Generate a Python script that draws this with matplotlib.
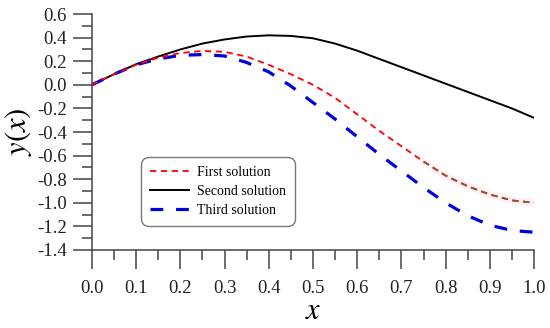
import matplotlib.pyplot as plt
from matplotlib.ticker import MultipleLocator, FormatStrFormatter

x = [0.0, 0.05, 0.1, 0.15, 0.2, 0.25, 0.3, 0.35, 0.4, 0.45, 0.5,
     0.55, 0.6, 0.65, 0.7, 0.75, 0.8, 0.85, 0.9, 0.95, 1.0]
first = [0.0, 0.09, 0.17, 0.23, 0.27, 0.288, 0.28, 0.24, 0.17, 0.09, 0.0,
         -0.11, -0.25, -0.39, -0.52, -0.65, -0.77, -0.86, -0.93, -0.98, -1.0]
second = [0.0, 0.09, 0.175, 0.24, 0.30, 0.35, 0.385, 0.41, 0.42, 0.415, 0.395,
          0.35, 0.29, 0.22, 0.15, 0.08, 0.01, -0.06, -0.13, -0.20, -0.28]
third = [0.0, 0.09, 0.17, 0.22, 0.25, 0.257, 0.245, 0.19, 0.11, -0.01, -0.15,
         -0.29, -0.44, -0.59, -0.73, -0.87, -1.0, -1.11, -1.19, -1.235, -1.25]

plt.rcParams['font.family'] = ['Liberation Serif', 'DejaVu Serif']
plt.rcParams['mathtext.fontset'] = 'stix'

fig = plt.figure(figsize=(5.5, 3.28), dpi=100)
ax = fig.add_axes([0.167, 0.238, 0.804, 0.719])

# red line fades to brown near the end in the source image
ax.plot(x[15:], first[15:], color='#fff0f5', lw=5, solid_capstyle='round', zorder=1)
ax.plot(x, first, color='red', lw=1.3, dashes=(3.5, 2.5), label='First solution', zorder=3)
ax.plot(x[15:], first[15:], color='#8b5a2b', lw=1.3, dashes=(3.5, 2.5), zorder=3)
ax.plot(x, second, color='black', lw=1.4, label='Second solution', zorder=2)
ax.plot(x, third, color='#0000dd', lw=2.3, dashes=(4, 4), label='Third solution', zorder=2)

ax.set_xlim(0, 1.0)
ax.set_ylim(-1.4, 0.6)
ax.xaxis.set_major_locator(MultipleLocator(0.1))
ax.xaxis.set_minor_locator(MultipleLocator(0.05))
ax.yaxis.set_major_locator(MultipleLocator(0.2))
ax.yaxis.set_minor_locator(MultipleLocator(0.1))
ax.xaxis.set_major_formatter(FormatStrFormatter('%.1f'))
ax.yaxis.set_major_formatter(FormatStrFormatter('%.1f'))
ax.tick_params(which='major', direction='out', length=14, width=1.1, color='#444444',
               labelsize=13.5, pad=4, labelcolor='#222222')
ax.tick_params(which='minor', direction='out', length=7, width=1.1, color='#444444')
ax.tick_params(axis='x', which='major', pad=8)

for s in ['top', 'right']:
    ax.spines[s].set_visible(False)
for s in ['left', 'bottom']:
    ax.spines[s].set_color('#444444')
    ax.spines[s].set_linewidth(1.1)

ax.set_xlabel('$x$', fontsize=22, labelpad=0)
ax.set_ylabel('$y(x)$', fontsize=22, labelpad=2)

leg = ax.legend(loc='upper left', bbox_to_anchor=(0.095, 0.425), fontsize=10,
                frameon=True, fancybox=True, handlelength=2.8, borderpad=0.65,
                labelspacing=0.45, handletextpad=0.6)
leg.get_frame().set_edgecolor('#555555')
leg.get_frame().set_linewidth(1.0)
leg.get_frame().set_boxstyle('round', pad=0, rounding_size=0.6)

fig.savefig('out.png', dpi=100)
